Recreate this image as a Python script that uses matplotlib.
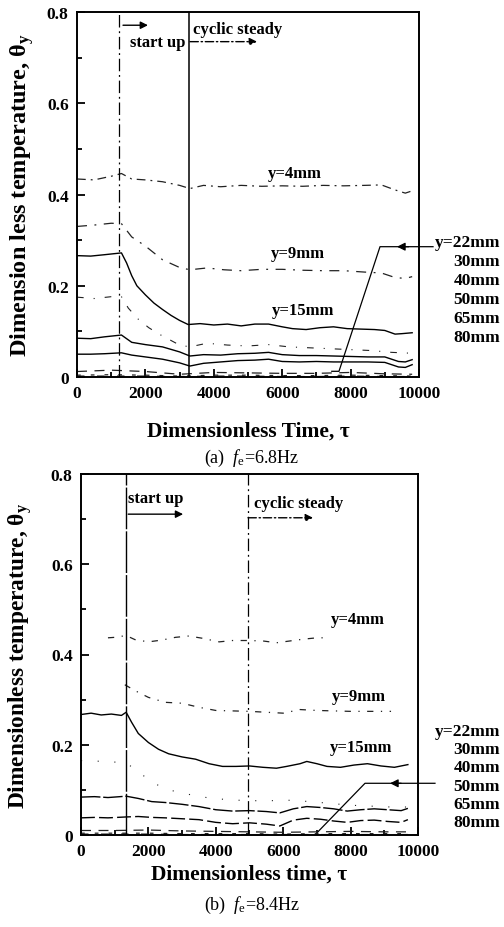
import matplotlib
matplotlib.use("Agg")
import matplotlib.pyplot as plt
from matplotlib.ticker import MultipleLocator

plt.rcParams['font.family'] = ['Liberation Serif', 'DejaVu Serif']
plt.rcParams['mathtext.fontset'] = 'custom'
plt.rcParams['mathtext.rm'] = 'Liberation Serif'
plt.rcParams['mathtext.it'] = 'Liberation Serif:italic'
plt.rcParams['mathtext.bf'] = 'Liberation Serif:bold'

# ---------------- data: panel (a) fe = 6.8 Hz ----------------
tau_a_4 = [0, 500, 1000, 1300, 1600, 2000, 2500, 3000, 3300, 3700, 4200, 4800, 5400, 6000, 6600, 7200, 7800, 8400, 8900, 9300, 9600, 9800]
theta_a_4 = [0.434, 0.432, 0.440, 0.446, 0.434, 0.432, 0.428, 0.420, 0.413, 0.420, 0.417, 0.420, 0.418, 0.419, 0.418, 0.420, 0.419, 0.420, 0.421, 0.410, 0.403, 0.408]

tau_a_9 = [0, 500, 1000, 1300, 1600, 2000, 2500, 3000, 3300, 3800, 4300, 4800, 5400, 6000, 6600, 7200, 7800, 8400, 8900, 9300, 9600, 9800]
theta_a_9 = [0.330, 0.333, 0.337, 0.336, 0.307, 0.287, 0.257, 0.240, 0.235, 0.239, 0.235, 0.233, 0.236, 0.236, 0.234, 0.233, 0.233, 0.230, 0.228, 0.218, 0.216, 0.220]

tau_a_15 = [0, 400, 800, 1300, 1450, 1600, 1750, 2000, 2250, 2500, 2750, 3000, 3250, 3600, 4000, 4400, 4800, 5200, 5600, 6000, 6300, 6700, 7100, 7500, 7900, 8300, 8700, 9000, 9300, 9500, 9800]
theta_a_15 = [0.266, 0.265, 0.268, 0.272, 0.250, 0.222, 0.200, 0.180, 0.162, 0.148, 0.135, 0.124, 0.115, 0.117, 0.114, 0.116, 0.112, 0.116, 0.116, 0.110, 0.106, 0.104, 0.108, 0.110, 0.106, 0.105, 0.104, 0.102, 0.094, 0.095, 0.097]

tau_a_22 = [0, 500, 1000, 1300, 1500, 1800, 2100, 2400, 2700, 3000, 3300, 3800, 4400, 5000, 5600, 6200, 6800, 7400, 8000, 8600, 9200, 9800]
theta_a_22 = [0.175, 0.172, 0.176, 0.176, 0.151, 0.126, 0.108, 0.094, 0.082, 0.070, 0.066, 0.074, 0.070, 0.068, 0.071, 0.066, 0.064, 0.062, 0.060, 0.058, 0.054, 0.052]

tau_a_low = [0, 400, 800, 1300, 1600, 2000, 2500, 3000, 3300, 3700, 4200, 4700, 5200, 5600, 6000, 6500, 7000, 7500, 8000, 8500, 9000, 9400, 9600, 9800]
theta_a_30 = [0.085, 0.084, 0.088, 0.092, 0.076, 0.071, 0.066, 0.055, 0.046, 0.049, 0.048, 0.051, 0.052, 0.054, 0.049, 0.047, 0.047, 0.046, 0.045, 0.044, 0.044, 0.034, 0.033, 0.038]
theta_a_40 = [0.050, 0.050, 0.051, 0.053, 0.048, 0.044, 0.039, 0.031, 0.024, 0.030, 0.033, 0.036, 0.037, 0.039, 0.034, 0.033, 0.034, 0.033, 0.033, 0.033, 0.032, 0.022, 0.021, 0.027]

tau_a_base = [0, 1000, 2000, 3000, 4000, 5000, 6000, 7000, 8000, 9000, 9800]
theta_a_50 = [0.012, 0.015, 0.012, 0.006, 0.010, 0.009, 0.008, 0.008, 0.010, 0.007, 0.006]
theta_a_65 = [0.004, 0.005, 0.004, 0.002, 0.004, 0.004, 0.003, 0.003, 0.004, 0.003, 0.002]
theta_a_80 = [0.002, 0.002, 0.002, 0.001, 0.002, 0.002, 0.001, 0.001, 0.002, 0.001, 0.001]

# ---------------- data: panel (b) fe = 8.4 Hz ----------------
tau_b_4 = [800, 1000, 1340, 1600, 2000, 2400, 2800, 3200, 3600, 4100, 4500, 4950, 5400, 5800, 6200, 6600, 7000, 7300]
theta_b_4 = [0.437, 0.438, 0.442, 0.433, 0.428, 0.432, 0.438, 0.441, 0.436, 0.428, 0.431, 0.431, 0.430, 0.426, 0.430, 0.434, 0.437, 0.437]

tau_b_9 = [1300, 1600, 2000, 2500, 3000, 3500, 4000, 4500, 5000, 5500, 6000, 6500, 7000, 7500, 8000, 8500, 9200]
theta_b_9 = [0.333, 0.320, 0.305, 0.294, 0.292, 0.283, 0.276, 0.275, 0.274, 0.272, 0.270, 0.278, 0.276, 0.275, 0.274, 0.274, 0.274]

tau_b_15 = [0, 300, 600, 900, 1200, 1340, 1500, 1700, 2000, 2300, 2600, 3000, 3400, 3800, 4200, 4600, 5000, 5400, 5800, 6100, 6500, 6700, 7000, 7300, 7700, 8100, 8500, 8900, 9300, 9700]
theta_b_15 = [0.267, 0.270, 0.266, 0.268, 0.265, 0.272, 0.250, 0.225, 0.205, 0.190, 0.180, 0.173, 0.168, 0.158, 0.152, 0.152, 0.153, 0.150, 0.148, 0.152, 0.158, 0.163, 0.158, 0.152, 0.150, 0.155, 0.158, 0.153, 0.150, 0.156]

tau_b_22 = [0, 700, 1340, 1700, 2150, 2600, 3200, 3800, 4400, 5000, 5600, 6200, 6800, 7400, 8000, 8600, 9200, 9700]
theta_b_22 = [0.165, 0.163, 0.160, 0.140, 0.115, 0.100, 0.090, 0.082, 0.078, 0.076, 0.076, 0.077, 0.074, 0.070, 0.066, 0.064, 0.062, 0.062]

tau_b_low = [0, 400, 800, 1340, 1700, 2100, 2500, 3000, 3500, 4000, 4500, 5000, 5500, 5900, 6300, 6700, 7100, 7500, 7900, 8300, 8700, 9100, 9500, 9700]
theta_b_30 = [0.084, 0.085, 0.083, 0.086, 0.081, 0.074, 0.072, 0.068, 0.063, 0.056, 0.053, 0.054, 0.052, 0.049, 0.058, 0.063, 0.061, 0.058, 0.053, 0.056, 0.058, 0.056, 0.054, 0.059]
theta_b_40 = [0.038, 0.039, 0.038, 0.040, 0.041, 0.039, 0.038, 0.036, 0.034, 0.028, 0.025, 0.027, 0.024, 0.020, 0.033, 0.037, 0.035, 0.031, 0.028, 0.032, 0.033, 0.030, 0.028, 0.034]

tau_b_base = [0, 1000, 2000, 3000, 4000, 5000, 6000, 7000, 8000, 9000, 9700]
theta_b_50 = [0.010, 0.010, 0.011, 0.009, 0.008, 0.007, 0.006, 0.007, 0.008, 0.007, 0.007]
theta_b_65 = [0.004, 0.004, 0.004, 0.003, 0.003, 0.003, 0.002, 0.003, 0.003, 0.003, 0.003]
theta_b_80 = [0.002, 0.002, 0.002, 0.001, 0.001, 0.001, 0.001, 0.001, 0.001, 0.001, 0.001]

right_labels = ['y=22mm', '30mm', '40mm', '50mm', '65mm', '80mm']
xticks = [0, 2000, 4000, 6000, 8000, 10000]
yticks = [0, 0.2, 0.4, 0.6, 0.8]

DASHDOT = (0, (7, 4, 1.5, 4))
SPARSE = (0, (5, 6, 1, 6))
LC = '#222222'

fig = plt.figure(figsize=(5.04, 9.28), dpi=100)
ax_a = fig.add_axes([77/504, 1-378/928, 342/504, 365/928])
ax_b = fig.add_axes([81/504, 1-836/928, 337/504, 361/928])


def style_axes(ax, xlabel, ylabel, xl_y, yl_x, ysize):
    ax.set_xlim(0, 10000)
    ax.set_ylim(0, 0.8)
    ax.set_xticks(xticks)
    ax.set_yticks(yticks)
    ax.set_xticklabels([f'{v:d}' for v in xticks])
    ax.set_yticklabels(['0', '0.2', '0.4', '0.6', '0.8'])
    ax.xaxis.set_minor_locator(MultipleLocator(1000))
    ax.yaxis.set_minor_locator(MultipleLocator(0.1))
    ax.tick_params(which='both', direction='in', top=False, right=False, width=1.3)
    ax.tick_params(which='major', length=6, pad=6, labelsize=12.5)
    ax.tick_params(which='minor', length=3.5)
    for lab in ax.get_xticklabels() + ax.get_yticklabels():
        lab.set_fontweight('bold')
    for sp in ax.spines.values():
        sp.set_linewidth(1.4)
    ax.set_xlabel(xlabel, fontsize=15.5, fontweight='bold')
    ax.set_ylabel(ylabel, fontsize=ysize, fontweight='bold')
    ax.xaxis.set_label_coords(0.5, xl_y)
    ax.xaxis.label.set_va('center')
    ax.yaxis.set_label_coords(yl_x, 0.5)
    ax.yaxis.label.set_va('center')


# ---------------- panel (a) ----------------
ax = ax_a
ax.plot(tau_a_4, theta_a_4, color=LC, lw=0.9, ls=DASHDOT)
ax.plot(tau_a_9, theta_a_9, color=LC, lw=0.9, ls=(0, (8, 6, 1.5, 6)))
ax.plot(tau_a_15, theta_a_15, color='black', lw=1.0)
ax.plot(tau_a_22, theta_a_22, color=LC, lw=0.8, ls=(0, (6, 9, 1, 9)))
ax.plot(tau_a_low, theta_a_30, color='black', lw=1.0)
ax.plot(tau_a_low, theta_a_40, color='black', lw=1.0)
ax.plot(tau_a_base, theta_a_50, color=LC, lw=0.9, ls=(0, (8, 6)))
ax.plot(tau_a_base, theta_a_65, color=LC, lw=0.9, ls=(0, (3, 8)))
ax.plot(tau_a_base, theta_a_80, color=LC, lw=0.9, ls=(0, (6, 10)))
ax.axvline(1235, color='black', lw=0.9, ls=(0, (10, 3, 1.5, 3)))
ax.axvline(3265, color='black', lw=1.1)

ax.annotate('', xy=(2075, 0.771), xytext=(1345, 0.771),
            arrowprops=dict(arrowstyle='-|>', color='black', lw=1.0, mutation_scale=11, shrinkA=0, shrinkB=0))
ax.text(2354, 0.734, 'start up', ha='center', va='center', fontsize=12, fontweight='bold')
ax.text(4693, 0.763, 'cyclic steady', ha='center', va='center', fontsize=12, fontweight='bold')
ax.annotate('', xy=(5263, 0.735), xytext=(3304, 0.735),
            arrowprops=dict(arrowstyle='-|>', color='black', lw=1.0, ls=(0, (6, 2, 1, 2)), mutation_scale=11, shrinkA=0, shrinkB=0))

ax.text(6360, 0.447, 'y=4mm', ha='center', va='center', fontsize=12, fontweight='bold')
ax.text(6470, 0.271, 'y=9mm', ha='center', va='center', fontsize=12, fontweight='bold')
ax.text(6620, 0.147, 'y=15mm', ha='center', va='center', fontsize=12, fontweight='bold')

ax.plot([7450, 7660, 8860, 10410], [0.0125, 0.0125, 0.2856, 0.2856], color='black', lw=0.9, clip_on=False)
ax.annotate('', xy=(9357, 0.2856), xytext=(9700, 0.2856),
            arrowprops=dict(arrowstyle='-|>', color='black', lw=0.9, mutation_scale=12, shrinkA=0, shrinkB=0))
for i, lab in enumerate(right_labels):
    ax.text(1.237, 0.370 - i*0.052, lab, transform=ax.transAxes, ha='right', va='center',
            fontsize=12.5, fontweight='bold')

style_axes(ax, 'Dimensionless Time, τ', r'Dimension less temperature, $\mathregular{\theta_y}$', -0.147, -0.161, 17.5)

# ---------------- panel (b) ----------------
ax = ax_b
ax.plot(tau_b_4, theta_b_4, color=LC, lw=0.9, ls=SPARSE)
ax.plot(tau_b_9, theta_b_9, color=LC, lw=0.9, ls=SPARSE)
ax.plot(tau_b_15, theta_b_15, color='black', lw=1.0)
ax.plot(tau_b_22, theta_b_22, color=LC, lw=0.8, ls=(0, (1, 14)))
ax.plot(tau_b_low, theta_b_30, color='black', lw=1.0, ls=(0, (14, 2)))
ax.plot(tau_b_low, theta_b_40, color='black', lw=1.0, ls=(0, (10, 3)))
ax.plot(tau_b_base, theta_b_50, color=LC, lw=0.9, ls=(0, (8, 6)))
ax.plot(tau_b_base, theta_b_65, color=LC, lw=0.9, ls=(0, (3, 8)))
ax.plot(tau_b_base, theta_b_80, color=LC, lw=0.9, ls=(0, (6, 10)))
ax.axvline(1340, color='black', lw=1.0, ls=(0, (30, 1.5)))
ax.axvline(4950, color='black', lw=0.9, ls=(0, (10, 3, 1.5, 3)))

ax.text(2210, 0.747, 'start up', ha='center', va='center', fontsize=12, fontweight='bold')
ax.annotate('', xy=(3030, 0.711), xytext=(1400, 0.711),
            arrowprops=dict(arrowstyle='-|>', color='black', lw=1.0, mutation_scale=11, shrinkA=0, shrinkB=0))
ax.text(6469, 0.736, 'cyclic steady', ha='center', va='center', fontsize=12, fontweight='bold')
ax.annotate('', xy=(6884, 0.703), xytext=(4955, 0.703),
            arrowprops=dict(arrowstyle='-|>', color='black', lw=1.0, ls=(0, (6, 2, 1, 2)), mutation_scale=11, shrinkA=0, shrinkB=0))

ax.text(8220, 0.479, 'y=4mm', ha='center', va='center', fontsize=12, fontweight='bold')
ax.text(8235, 0.309, 'y=9mm', ha='center', va='center', fontsize=12, fontweight='bold')
ax.text(8310, 0.196, 'y=15mm', ha='center', va='center', fontsize=12, fontweight='bold')

ax.plot([7042, 8427, 10504], [0.008, 0.1146, 0.1146], color='black', lw=0.9, clip_on=False)
ax.annotate('', xy=(9170, 0.1146), xytext=(9500, 0.1146),
            arrowprops=dict(arrowstyle='-|>', color='black', lw=0.9, mutation_scale=12, shrinkA=0, shrinkB=0))
for i, lab in enumerate(right_labels):
    ax.text(1.243, 0.289 - i*0.0507, lab, transform=ax.transAxes, ha='right', va='center',
            fontsize=12.5, fontweight='bold')

style_axes(ax, 'Dimensionless time, τ', r'Dimensionless temperature, $\mathregular{\theta_y}$', -0.108, -0.181, 16.8)

fig.text(0.5, 1-458/928, r'(a)  $\mathit{f}_\mathregular{e}$=6.8Hz', ha='center', va='center', fontsize=13)
fig.text(0.5, 1-905/928, r'(b)  $\mathit{f}_\mathregular{e}$=8.4Hz', ha='center', va='center', fontsize=13)

fig.savefig('out.png', dpi=100)
